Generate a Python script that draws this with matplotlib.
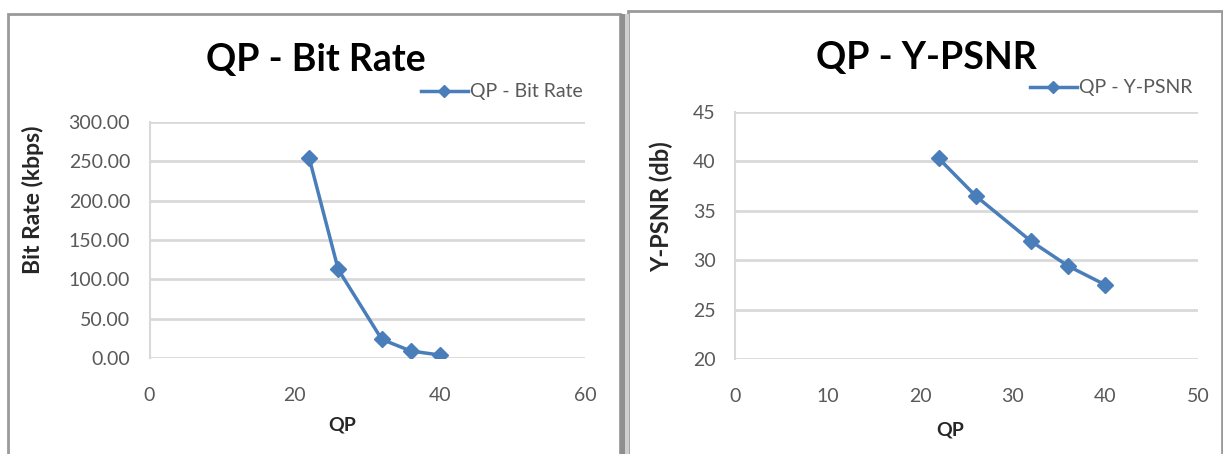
import matplotlib
matplotlib.use("Agg")
import matplotlib.pyplot as plt
from matplotlib.patches import Rectangle

# 数据
qp = [22, 26, 32, 36, 40]
bit_rate = [254.3, 112.6, 23.7, 8.9, 3.8]
y_psnr = [40.3, 36.5, 31.9, 29.4, 27.5]

W, H = 1223, 454
plt.rcParams['font.family'] = ['Lato', 'DejaVu Sans']

fig = plt.figure(figsize=(W / 100, H / 100), dpi=100)
fig.patch.set_facecolor('white')


def fx(px):
    return px / W


def fy(py):
    return 1 - py / H


# 外框
frame_col = '#9a9a9a'
fig.patches.append(Rectangle((fx(8), fy(470)), fx(612), (470 - 14) / H,
                             transform=fig.transFigure, fill=False,
                             edgecolor=frame_col, linewidth=2))
fig.patches.append(Rectangle((fx(628), fy(470)), fx(594), (470 - 11) / H,
                             transform=fig.transFigure, fill=False,
                             edgecolor=frame_col, linewidth=2))
fig.patches.append(Rectangle((fx(620), 0), fx(5), fy(14),
                             transform=fig.transFigure, facecolor='#8f8f8f',
                             edgecolor='none'))
fig.patches.append(Rectangle((fx(625), 0), fx(4), fy(14),
                             transform=fig.transFigure, facecolor='#cfcfcf',
                             edgecolor='none'))

blue = '#4a7ebb'
grid_col = '#d9d9d9'
tick_col = '#595959'
lab_col = '#262626'


def make_axes(box, xlim, xticks, ylim, yticks, yfmt):
    x0, y0, x1, y1 = box
    ax = fig.add_axes([fx(x0), fy(y1), fx(x1 - x0), (y1 - y0) / H])
    ax.set_xlim(*xlim)
    ax.set_ylim(*ylim)
    ax.set_xticks(xticks)
    ax.set_yticks(yticks)
    ax.set_yticklabels([yfmt.format(v) for v in yticks])
    for s in ['top', 'right', 'bottom']:
        ax.spines[s].set_visible(False)
    ax.spines['left'].set_color(grid_col)
    ax.spines['left'].set_linewidth(1.5)
    ax.yaxis.grid(True, color=grid_col, linewidth=2)
    ax.set_axisbelow(True)
    ax.tick_params(length=0, labelsize=14, colors=tick_col)
    ax.tick_params(axis='x', pad=21)
    ax.tick_params(axis='y', pad=14)
    ax.patch.set_alpha(0)
    return ax


# 左图
ax1 = make_axes((149.5, 122, 585, 358), (0, 60), [0, 20, 40, 60],
                (0, 300), [0, 50, 100, 150, 200, 250, 300], '{:.2f}')
ax1.plot(qp, bit_rate, color=blue, linewidth=2.5, marker='D', markersize=8,
         label='QP - Bit Rate')
fig.text(fx(316), fy(60), 'QP - Bit Rate', fontsize=27, fontweight='bold',
         ha='center', va='center', color='black')
fig.text(fx(33), fy(200), 'Bit Rate (kbps)', fontsize=16.5, fontweight='bold',
         rotation=90, ha='center', va='center', color=lab_col)
fig.text(fx(342), fy(425), 'QP', fontsize=14, fontweight='bold',
         ha='center', va='center', color=lab_col)
ax1.legend(loc='center left', bbox_to_anchor=(fx(421), fy(92)),
           bbox_transform=fig.transFigure, frameon=False, fontsize=14,
           handlelength=2.4, handletextpad=0.1, borderpad=0, borderaxespad=0,
           labelcolor=tick_col, markerscale=0.8)

# 右图
ax2 = make_axes((735, 112, 1198, 359), (0, 50), [0, 10, 20, 30, 40, 50],
                (20, 45), [20, 25, 30, 35, 40, 45], '{:d}')
ax2.plot(qp, y_psnr, color=blue, linewidth=2.5, marker='D', markersize=8,
         label='QP - Y-PSNR')
fig.text(fx(926), fy(58), 'QP - Y-PSNR', fontsize=27, fontweight='bold',
         ha='center', va='center', color='black')
fig.text(fx(661), fy(207), 'Y-PSNR (db)', fontsize=17, fontweight='bold',
         rotation=90, ha='center', va='center', color=lab_col)
fig.text(fx(950), fy(430), 'QP', fontsize=14, fontweight='bold',
         ha='center', va='center', color=lab_col)
ax2.legend(loc='center left', bbox_to_anchor=(fx(1030), fy(88)),
           bbox_transform=fig.transFigure, frameon=False, fontsize=14,
           handlelength=2.4, handletextpad=0.1, borderpad=0, borderaxespad=0,
           labelcolor=tick_col, markerscale=0.8)

fig.savefig('out.png', dpi=100)
